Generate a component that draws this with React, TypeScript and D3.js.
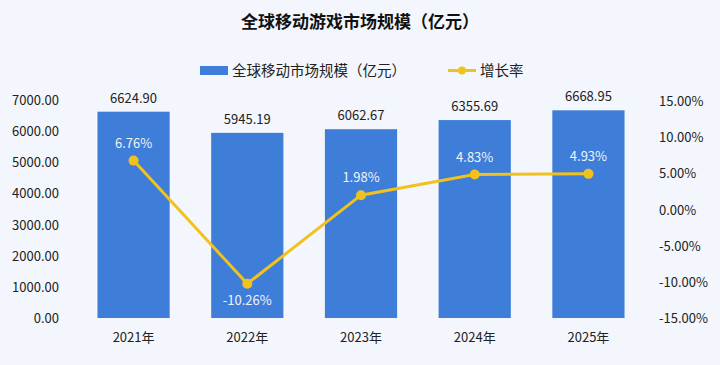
import React from "react";
import * as d3 from "d3";

const categories = ["2021年", "2022年", "2023年", "2024年", "2025年"];
const marketSize = [6624.9, 5945.19, 6062.67, 6355.69, 6668.95];
const growth = [6.76, -10.26, 1.98, 4.83, 4.93];
const leftTicks = [0, 1000, 2000, 3000, 4000, 5000, 6000, 7000];
const rightTicks = [-15, -10, -5, 0, 5, 10, 15];

const W = 720, H = 365;
const FONT = "'Noto Sans CJK SC', 'Noto Sans', sans-serif";
const BLUE = "#3e7ed8";
const YELLOW = "#f1c21e";

export default function App() {
  const x = d3.scaleBand<string>().domain(categories).range([77, 645]).paddingInner(0.365).paddingOuter(0.18);
  const yL = d3.scaleLinear().domain([0, 7000]).range([318, 100]);
  const yR = d3.scaleLinear().domain([-15, 15]).range([318, 101]);
  const cx = (c: string) => (x(c) as number) + x.bandwidth() / 2;
  const line = d3.line<number>().x((_, i) => cx(categories[i])).y((d) => yR(d));

  return (
    <svg width={W} height={H} style={{ position: "absolute", left: 0, top: 0, fontFamily: FONT }}>
      <rect width={W} height={H} fill="#f3f6fc" />
      <text x={360} y={28} textAnchor="middle" fontSize={17} fontWeight="bold" fill="#111">全球移动游戏市场规模（亿元）</text>
      {/* legend */}
      <rect x={200} y={66} width={28} height={9} fill={BLUE} />
      <text x={232} y={76} fontSize={14.5} fill="#222">全球移动市场规模（亿元）</text>
      <line x1={448} x2={476} y1={70.5} y2={70.5} stroke={YELLOW} strokeWidth={3} />
      <circle cx={462} cy={70.5} r={4} fill={YELLOW} />
      <text x={480} y={76} fontSize={14.5} fill="#222">增长率</text>

      {/* left axis */}
      {leftTicks.map((t) => (
        <text key={t} x={59} y={yL(t) + 5} textAnchor="end" fontSize={13} fill="#222">{t.toFixed(2)}</text>
      ))}
      {/* right axis */}
      {rightTicks.map((t) => (
        <text key={t} x={659} y={yR(t) + 5} textAnchor="start" fontSize={13} fill="#222">{t.toFixed(2)}%</text>
      ))}

      {/* bars */}
      {marketSize.map((v, i) => (
        <g key={categories[i]}>
          <rect x={x(categories[i])} y={yL(v)} width={x.bandwidth()} height={yL(0) - yL(v)} fill={BLUE} />
          <text x={cx(categories[i])} y={yL(v) - 9} textAnchor="middle" fontSize={13} fill="#222">{v.toFixed(2)}</text>
          <text x={cx(categories[i])} y={342} textAnchor="middle" fontSize={13} fill="#222">{categories[i]}</text>
        </g>
      ))}

      {/* line */}
      <path d={line(growth) || ""} fill="none" stroke={YELLOW} strokeWidth={3} />
      {growth.map((g, i) => (
        <g key={i}>
          <circle cx={cx(categories[i])} cy={yR(g)} r={5} fill={YELLOW} />
          <text x={cx(categories[i])} y={g < 0 ? yR(g) + 21 : yR(g) - 13} textAnchor="middle" fontSize={13} fill="#eef3fb">{g.toFixed(2)}%</text>
        </g>
      ))}
    </svg>
  );
}
